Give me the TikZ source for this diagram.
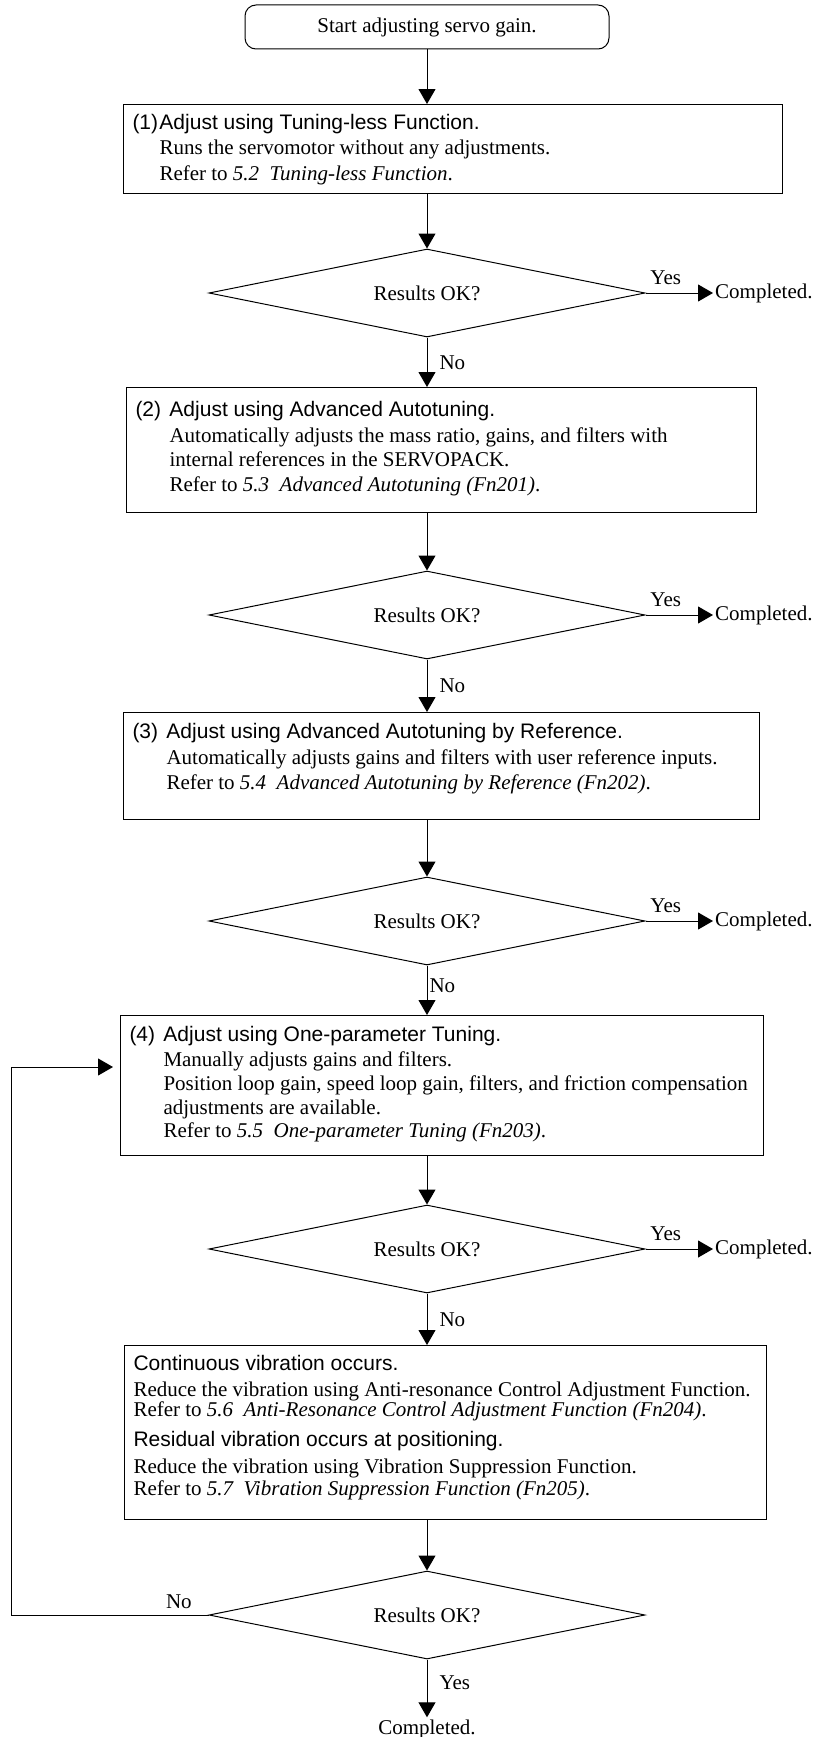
\documentclass[tikz,border=0pt]{standalone}
\usepackage{fontspec}
\setmainfont{Liberation Serif}
\newfontfamily\hdfont{Liberation Sans}
\usetikzlibrary{positioning,arrows.meta,shapes.geometric}

% box contents: width, height, top gap, lines
\newcommand{\boxtext}[4]{\parbox[t][#2][t]{#1}{\raggedright\vspace*{#3}#4}}
\newcommand{\hdline}[3][34pt]{\makebox[#1][l]{\hdfont #2}{\hdfont #3}}
\newcommand{\bodyline}[2][34pt]{\hspace*{#1}#2}

\begin{document}
\begin{tikzpicture}[
    x=1pt, y=-1pt,
    font=\fontsize{21}{25.5}\selectfont,
    box/.style={draw, line width=1pt, anchor=north west, inner xsep=9pt, inner ysep=0pt},
    startbox/.style={draw, line width=1pt, rounded corners=11pt, minimum width=364pt,
                     minimum height=44pt, inner sep=0pt},
    dec/.style={diamond, draw, line width=1pt, aspect=5, minimum width=436pt,
                minimum height=88pt, inner sep=0pt},
    arr/.style={-{Triangle[length=15pt,width=17pt]}, line width=1pt},
    lbl/.style={inner sep=2pt},
  ]
  \useasboundingbox (0,0) rectangle (820,1737);

  % ---------- start ----------
  \node[startbox] (start) at (427,27) {Start adjusting servo gain.};

  % ---------- step 1 ----------
  \node[box] (adj1) at (123,104) {\boxtext{641pt}{89pt}{9.5pt}{%
    \hdline[27pt]{(1)}{Adjust using Tuning-less Function.}\\
    \bodyline[27pt]{Runs the servomotor without any adjustments.}\\
    \bodyline[27pt]{Refer to \textit{5.2\ \ Tuning-less Function}.}}};
  \node[dec] (ok1) at (427,293) {Results OK?};
  \node[lbl, anchor=west] (done1) at (713,293) {Completed.};

  % ---------- step 2 ----------
  \node[box] (adj2) at (126,387) {\boxtext{612pt}{125pt}{14pt}{%
    \hdline{(2)}{Adjust using Advanced Autotuning.}\\
    \bodyline{Automatically adjusts the mass ratio, gains, and filters with}\\[-1pt]
    \bodyline{internal references in the SERVOPACK.}\\[-1pt]
    \bodyline{Refer to \textit{5.3\ \ Advanced Autotuning (Fn201)}.}}};
  \node[dec] (ok2) at (427,615) {Results OK?};
  \node[lbl, anchor=west] (done2) at (713,615) {Completed.};

  % ---------- step 3 ----------
  \node[box] (adj3) at (123,712) {\boxtext{618pt}{107pt}{11pt}{%
    \hdline{(3)}{Adjust using Advanced Autotuning by Reference.}\\
    \bodyline{Automatically adjusts gains and filters with user reference inputs.}\\
    \bodyline{Refer to \textit{5.4\ \ Advanced Autotuning by Reference (Fn202)}.}}};
  \node[dec] (ok3) at (427,921) {Results OK?};
  \node[lbl, anchor=west] (done3) at (713,921) {Completed.};

  % ---------- step 4 ----------
  \node[box] (adj4) at (120,1015) {\boxtext{625pt}{140pt}{11pt}{%
    \hdline{(4)}{Adjust using One-parameter Tuning.}\\[-1pt]
    \bodyline{Manually adjusts gains and filters.}\\[-1pt]
    \bodyline{Position loop gain, speed loop gain, filters, and friction compensation}\\[-2pt]
    \bodyline{adjustments are available.}\\[-2pt]
    \bodyline{Refer to \textit{5.5\ \ One-parameter Tuning (Fn203)}.}}};
  \node[dec] (ok4) at (427,1249) {Results OK?};
  \node[lbl, anchor=west] (done4) at (713,1249) {Completed.};

  % ---------- vibration ----------
  \node[box] (vib) at (124,1345) {\boxtext{624pt}{174pt}{10pt}{%
    {\hdfont Continuous vibration occurs.}\\
    Reduce the vibration using Anti-resonance Control Adjustment Function.\\[-5.5pt]
    Refer to \textit{5.6\ \ Anti-Resonance Control Adjustment Function (Fn204)}.\\[4.5pt]
    {\hdfont Residual vibration occurs at positioning.}\\[1.5pt]
    Reduce the vibration using Vibration Suppression Function.\\[-3.5pt]
    Refer to \textit{5.7\ \ Vibration Suppression Function (Fn205)}.}};
  \node[dec] (ok5) at (427,1615) {Results OK?};
  \node[lbl] (done5) at (427,1729) {Completed.};
  \coordinate (loopx) at (11,0);

  % ---------- connectors ----------
  \draw[arr] (start.south) -- (start.south |- adj1.north);
  \draw[arr] (ok1.north |- adj1.south) -- (ok1.north);
  \draw[arr] (ok1.east) -- (done1.west) node[lbl, above=6pt, pos=0.3] {Yes};
  \draw[arr] (ok1.south) -- (ok1.south |- adj2.north) node[lbl, right=10pt, midway] {No};

  \draw[arr] (ok2.north |- adj2.south) -- (ok2.north);
  \draw[arr] (ok2.east) -- (done2.west) node[lbl, above=6pt, pos=0.3] {Yes};
  \draw[arr] (ok2.south) -- (ok2.south |- adj3.north) node[lbl, right=10pt, midway] {No};

  \draw[arr] (ok3.north |- adj3.south) -- (ok3.north);
  \draw[arr] (ok3.east) -- (done3.west) node[lbl, above=6pt, pos=0.3] {Yes};
  \draw[arr] (ok3.south) -- (ok3.south |- adj4.north) node[lbl, right, pos=0.4] {No};

  \draw[arr] (ok4.north |- adj4.south) -- (ok4.north);
  \draw[arr] (ok4.east) -- (done4.west) node[lbl, above=6pt, pos=0.3] {Yes};
  \draw[arr] (ok4.south) -- (ok4.south |- vib.north) node[lbl, right=10pt, midway] {No};

  \draw[arr] (ok5.north |- vib.south) -- (ok5.north);
  \draw[arr] (ok5.south) -- (done5.north) node[lbl, right=10pt, pos=0.4] {Yes};
  \draw[arr, shorten >=7pt] (ok5.west) -- (loopx |- ok5.west)
    node[lbl, above=4pt, pos=0.15] {No} |- ([yshift=-52pt]adj4.north west);

\end{tikzpicture}
\end{document}
